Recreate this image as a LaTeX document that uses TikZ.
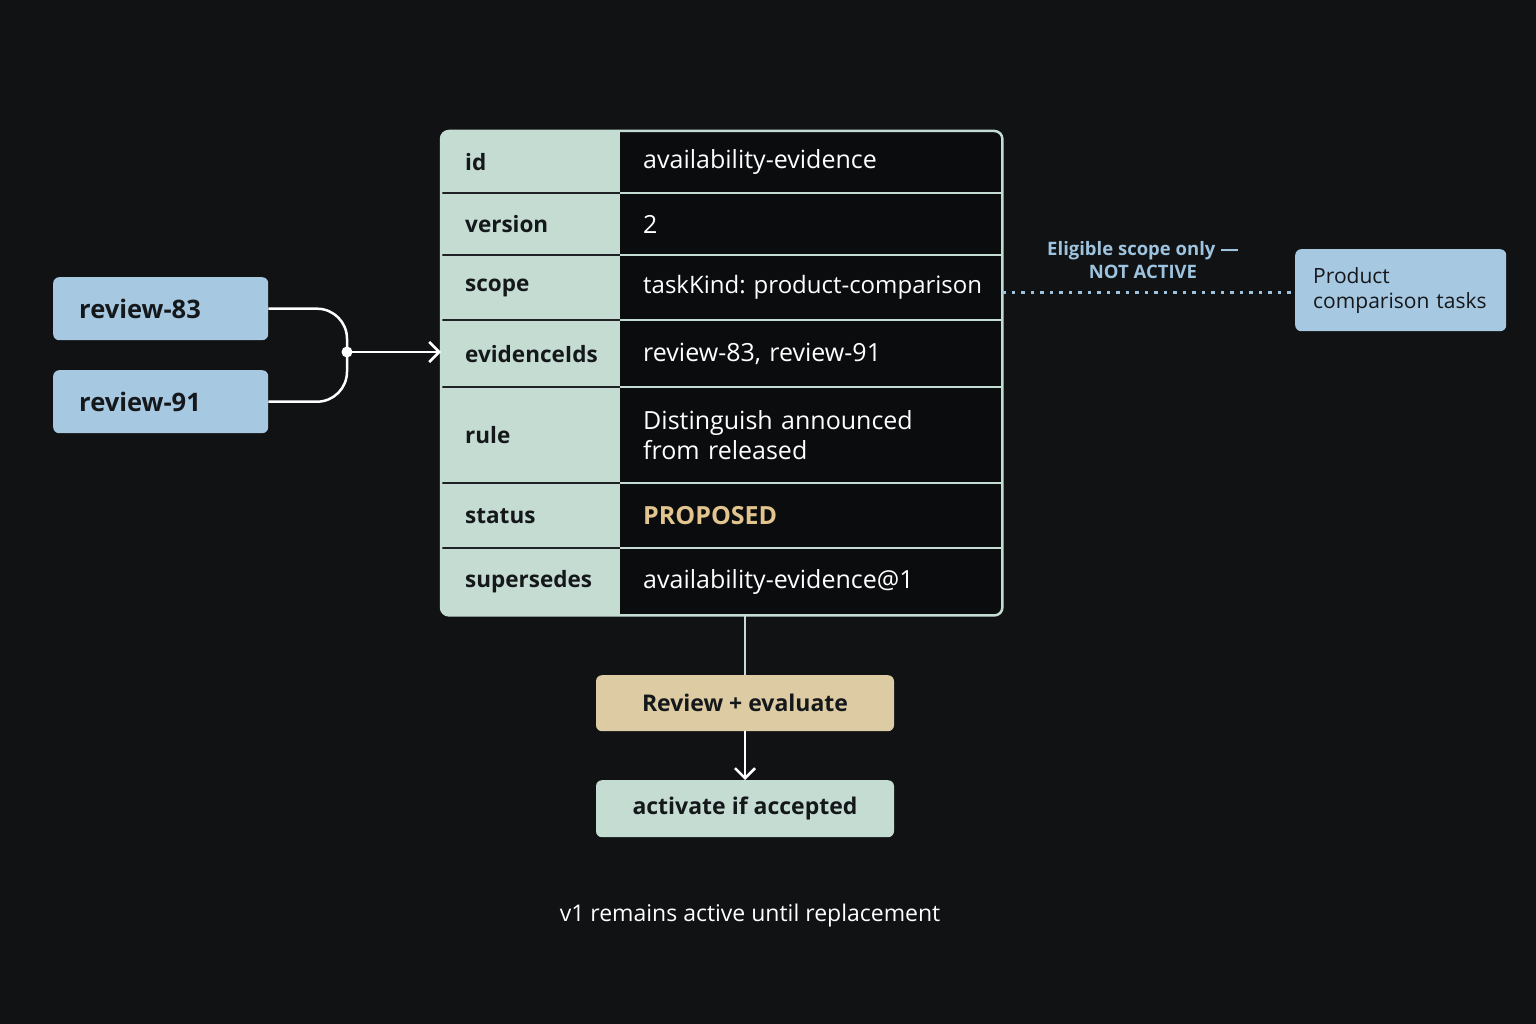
\documentclass[tikz,border=0pt]{standalone}
\usepackage{fontspec}
\setmainfont{Open Sans}
\usetikzlibrary{arrows.meta}
\frenchspacing
\definecolor{bg}{HTML}{101214}
\definecolor{cellbg}{HTML}{0B0C0E}
\definecolor{mint}{HTML}{C5DCD2}
\definecolor{bluebox}{HTML}{A6C8E1}
\definecolor{tanbox}{HTML}{DCCBA3}
\definecolor{ink}{HTML}{15181B}
\definecolor{dotblue}{HTML}{9DC3DF}
\definecolor{proposed}{HTML}{E2C58E}
\definecolor{sepdark}{HTML}{1E2224}
\begin{document}
\begin{tikzpicture}[x=1pt,y=-1pt,
  lbox/.style={rounded corners=6pt, inner ysep=0pt, text=ink, anchor=north west},
  keycell/.style={anchor=north west, minimum width=179pt, inner xsep=24pt, inner ysep=0pt,
    text width=131pt, align=left, text=ink, font=\fontsize{22.5}{28}\selectfont\bfseries},
  valcell/.style={anchor=north west, minimum width=382pt, inner xsep=23pt, inner ysep=0pt,
    text width=380pt, align=left, text=white, font=\fontsize{25}{30}\selectfont},
  darksep/.style={draw=sepdark, line width=2pt},
  lightsep/.style={draw=mint, line width=2pt},
  wire/.style={draw=white, line width=2.5pt},
  barb/.style={-{Straight Barb[length=10pt,width=20pt,line width=2.5pt]}}
]
\useasboundingbox[fill=bg] (0,0) rectangle (1536,1024);

% table frame
\node[anchor=north west, minimum width=561pt, minimum height=484pt, inner sep=0pt] (tbl) at (441,131) {};
\fill[cellbg, rounded corners=8pt] (tbl.north west) rectangle (tbl.south east);
\begin{scope}
  \clip[rounded corners=8pt] (tbl.north west) rectangle (tbl.south east);
  \fill[mint] (441,131) rectangle (620,615);
\end{scope}

% rows
\node[keycell, minimum height=62pt] (k1) at (441,131) {id};
\node[valcell, minimum height=62pt] (v1) at (620,131) {availability-evidence};
\node[keycell, minimum height=62pt] (k2) at (441,193) {version};
\node[valcell, minimum height=62pt] (v2) at (620,193) {2};
\node[keycell, minimum height=65pt] (k3) at (441,255) {scope};
\node[valcell, minimum height=65pt, font=\fontsize{24}{30}\selectfont] (v3) at (620,255) {taskKind: product-comparison};
\node[keycell, minimum height=67pt] (k4) at (441,320) {evidenceIds};
\node[valcell, minimum height=67pt] (v4) at (620,320) {review-83, review-91};
\node[keycell, minimum height=96pt] (k5) at (441,387) {rule};
\node[valcell, minimum height=96pt] (v5) at (620,387) {Distinguish announced\\from released};
\node[keycell, minimum height=65pt] (k6) at (441,483) {status};
\node[valcell, minimum height=65pt, text=proposed, font=\fontsize{25}{30}\selectfont\bfseries] (v6) at (620,483) {PROPOSED};
\node[keycell, minimum height=67pt] (k7) at (441,548) {supersedes};
\node[valcell, minimum height=67pt] (v7) at (620,548) {availability-evidence@1};

\foreach \r in {1,...,6}{
  \draw[darksep] (k\r.south west) -- (k\r.south east);
  \draw[lightsep] (v\r.south west) -- (tbl.east |- v\r.south);
}
\draw[mint, line width=2.5pt, rounded corners=8pt] (tbl.north west) rectangle (tbl.south east);

% evidence boxes
\node[lbox, fill=bluebox, minimum width=215pt, minimum height=63pt, inner xsep=26pt,
  text width=163pt, align=left, font=\fontsize{25.5}{30}\selectfont\bfseries] (r83) at (53,277) {review-83};
\node[lbox, fill=bluebox, minimum width=215pt, minimum height=63pt, inner xsep=26pt,
  text width=163pt, align=left, font=\fontsize{25.5}{30}\selectfont\bfseries] (r91) at (53,370) {review-91};

\coordinate (jn) at (347,352);
\draw[wire, rounded corners=30pt] (r83.east) -- (r83.east -| jn) -- (jn);
\draw[wire, rounded corners=30pt] (r91.east) -- (r91.east -| jn) -- (jn);
\fill[white] (jn) circle (5.5pt);
\draw[wire, barb] (jn) -- (k4.west |- jn);

% scope target
\node[lbox, fill=bluebox, minimum width=211pt, minimum height=82pt, inner xsep=18pt,
  text width=175pt, align=left, font=\fontsize{21}{25}\selectfont] (prod) at (1295,249) {Product\\comparison tasks};
\coordinate (dl) at (1004,292);
\draw[dotblue, line width=3pt, dash pattern=on 3.5pt off 6pt] (tbl.east |- dl) -- (prod.west |- dl);
\node[text=dotblue, align=center, font=\fontsize{18.5}{23}\selectfont\bfseries] (elig) at (1143,260) {Eligible scope only —\\NOT ACTIVE};

% review flow
\node[lbox, fill=tanbox, minimum width=298pt, minimum height=56pt, anchor=north,
  font=\fontsize{23}{28}\selectfont\bfseries] (rev) at (745,675) {Review + evaluate};
\node[lbox, fill=mint, minimum width=298pt, minimum height=57pt, anchor=north,
  font=\fontsize{23}{28}\selectfont\bfseries] (act) at (745,780) {activate if accepted};
\draw[mint, line width=2.5pt] (rev.north |- tbl.south) -- (rev.north);
\draw[wire, barb] (rev.south) -- (act.north);

\node[text=white, font=\fontsize{23}{28}\selectfont] (foot) at (750,916) {v1 remains active until replacement};
\end{tikzpicture}
\end{document}
